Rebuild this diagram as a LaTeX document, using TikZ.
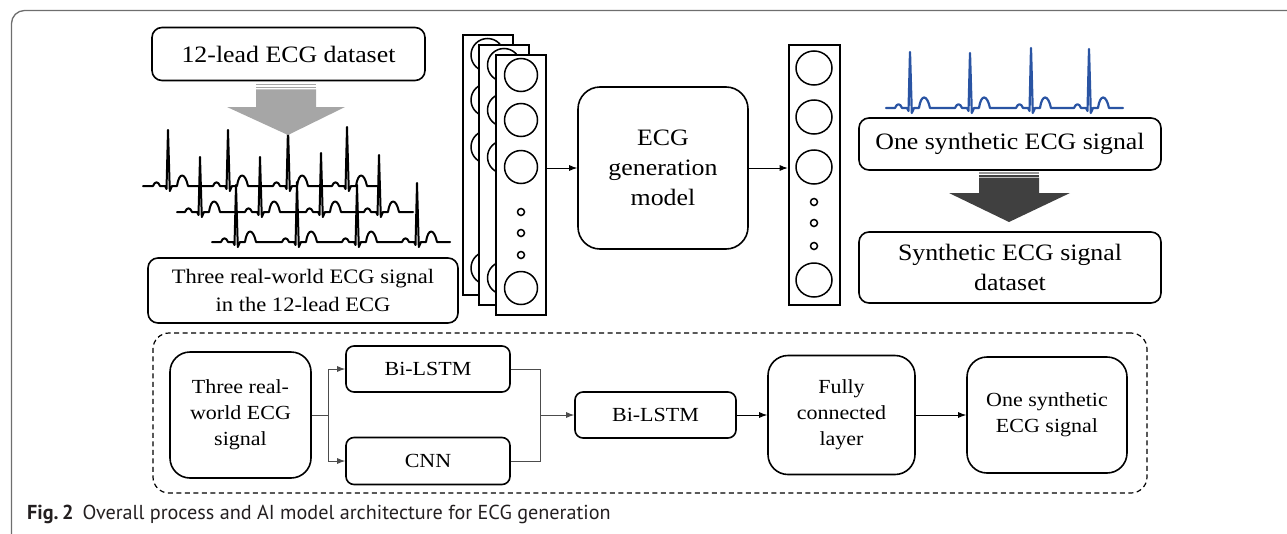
\documentclass[tikz,border=0pt]{standalone}
\usepackage{fontspec}
\setmainfont{Liberation Serif}[FakeStretch=1.1]
\newfontfamily\capfont{PT Sans}
\usetikzlibrary{arrows.meta}
\definecolor{ecgblue}{HTML}{2A54A3}
\definecolor{lightarrow}{HTML}{A6A6A6}
\definecolor{darkarrow}{HTML}{404040}
\definecolor{framecol}{HTML}{6E6E6E}
\definecolor{capcol}{HTML}{231F20}
\newcommand{\ecgrow}[5]{%
  \draw[#1] (#2,#3) foreach \rr/\hh in {#4} { -- (\rr-15,#3) .. controls (\rr-13,#3-5) and (\rr-10,#3-5) .. (\rr-8,#3) -- (\rr-3,#3) -- (\rr-1.5,#3+3) -- (\rr,#3-\hh) -- (\rr+1.8,#3+5) -- (\rr+4,#3) -- (\rr+9,#3) .. controls (\rr+11,#3-14) and (\rr+17,#3-14) .. (\rr+20,#3) } -- (#5,#3);}
\begin{document}
\begin{tikzpicture}[x=1pt,y=-1pt,
  box/.style={draw, line width=1.6pt, rounded corners=10pt, fill=white, align=center, inner sep=0pt},
  bigfont/.style={font=\fontsize{23.5}{30}\selectfont},
  midfont/.style={font=\fontsize{20.5}{28}\selectfont},
  smallfont/.style={font=\fontsize{20}{26}\selectfont},
  layer/.style={draw, line width=2.6pt, fill=white, inner sep=0pt, minimum width=50pt, minimum height=260pt},
  neuron/.style={line width=1.5pt},
  arr/.style={-{Latex[length=8pt,width=6pt]}, line width=0.9pt},
  conn/.style={line width=0.9pt, draw=black!70},
  ecg/.style={line width=2pt, line join=round, line cap=round}]
\useasboundingbox (0,0) rectangle (1287,533);
% outer frame
\draw[framecol, line width=1.3pt, rounded corners=13pt] (11.5,10.5) rectangle (1320,560);
% top-left
\node[box, bigfont, minimum width=273pt, minimum height=53pt] (ds) at (288.5,54) {12-lead ECG dataset};
% ECG traces
\ecgrow{ecg}{143}{186}{168/56,228/56,288/58,347/59}{378}
\ecgrow{ecg}{177}{212}{200/55,260/55,321/59,379/57}{413}
\ecgrow{ecg}{212}{242}{236/57,297/60,357/57,417/59}{450}
% light arrow
\fill[lightarrow] (256,83.5) rectangle (316,85.2);
\fill[lightarrow] (256,86.5) rectangle (316,88);
\fill[lightarrow] (256,89.3) -- (316,89.3) -- (316,107) -- (345,107) -- (288,135) -- (227,107) -- (256,107) -- cycle;
\node[box, midfont, minimum width=310pt, minimum height=65pt] (three) at (303,290.5) {Three real-world ECG signal\\in the 12-lead ECG};
% layers
\node[layer] (l1) at (488,165) {};
\foreach \yy in {55,100,147,268} \draw[neuron] (487.5,\yy) circle[radius=16.5pt];
\node[layer] (l2) at (504,175) {};
\foreach \yy in {65,110,157,278} \draw[neuron] (504,\yy) circle[radius=16.5pt];
\node[layer] (l3) at (521,185) {};
\foreach \yy in {75,120,167,288} \draw[neuron] (521,\yy) circle[radius=16.5pt];
\foreach \yy in {212,233,255} \draw[neuron] (521,\yy) circle[radius=3.5pt];
% model
\node[box, bigfont, rounded corners=22pt, minimum width=170pt, minimum height=162pt] (model) at (663,168) {ECG\\generation\\model};
% right layer
\node[layer, minimum width=51pt] (rl) at (814.5,175) {};
\foreach \yy in {68,117,167,280} \draw[neuron] (814,\yy) ellipse[x radius=18pt, y radius=17pt];
\foreach \yy in {202,223,246} \draw[neuron] (814,\yy) circle[radius=3.5pt];
\draw[arr] (l3.east |- model.west) -- (model.west);
\draw[arr] (model.east) -- (rl.west |- model.east);
% blue ecg
\ecgrow{ecg, ecgblue, line width=2.2pt}{886}{108}{910/56,970/55,1031/60,1089/59}{1123}
\node[box, bigfont, minimum width=302pt, minimum height=52pt] (one) at (1010,144) {One synthetic ECG signal};
% dark arrow
\fill[darkarrow!55] (979,172) rectangle (1039,173.7);
\fill[darkarrow] (979,174.6) rectangle (1039,176.6);
\fill[darkarrow] (979,177.6) -- (1039,177.6) -- (1039,193) -- (1070,193) -- (1009,222) -- (949,193) -- (979,193) -- cycle;
\node[box, bigfont, minimum width=302pt, minimum height=71pt] (synth) at (1010,267.5) {Synthetic ECG signal\\dataset};
% bottom architecture
\node[draw, dashed, line width=1.2pt, dash pattern=on 5pt off 3.5pt, rounded corners=16pt, minimum width=994pt, minimum height=160pt, inner sep=0pt] (arch) at (650,413) {};
\node[box, smallfont, rounded corners=20pt, minimum width=141pt, minimum height=126pt] (in) at (240.5,415) {Three real-\\world ECG\\signal};
\node[box, smallfont, rounded corners=8pt, minimum width=164pt, minimum height=46pt] (bl1) at (428,369) {Bi-LSTM};
\node[box, smallfont, rounded corners=8pt, minimum width=164pt, minimum height=47pt] (cnn) at (428,461) {CNN};
\node[box, smallfont, rounded corners=8pt, minimum width=161pt, minimum height=46pt] (bl2) at (655.5,415) {Bi-LSTM};
\node[box, smallfont, rounded corners=20pt, minimum width=147pt, minimum height=119pt] (fc) at (841.5,415) {Fully\\connected\\layer};
\node[box, smallfont, rounded corners=20pt, minimum width=160pt, minimum height=116pt] (out) at (1047,415) {One synthetic\\ECG signal};
\coordinate (split) at (328,415);
\coordinate (merge) at (540,415);
\draw[conn] (in.east) -- (split);
\draw[conn, arr] (split) |- (bl1.west);
\draw[conn, arr] (split) |- (cnn.west);
\draw[conn] (bl1.east) -| (merge);
\draw[conn] (cnn.east) -| (merge);
\draw[conn, arr] (merge) -- (bl2.west);
\draw[arr] (bl2.east) -- (fc.west);
\draw[arr] (fc.east) -- (out.west);
% caption
\node[anchor=base west, inner sep=0pt, text=capcol, font=\capfont\fontsize{20.2}{22}\selectfont] (cap) at (27,519) {\textbf{Fig.\,2}\hspace{9pt}Overall process and AI model architecture for ECG generation};
\end{tikzpicture}
\end{document}
